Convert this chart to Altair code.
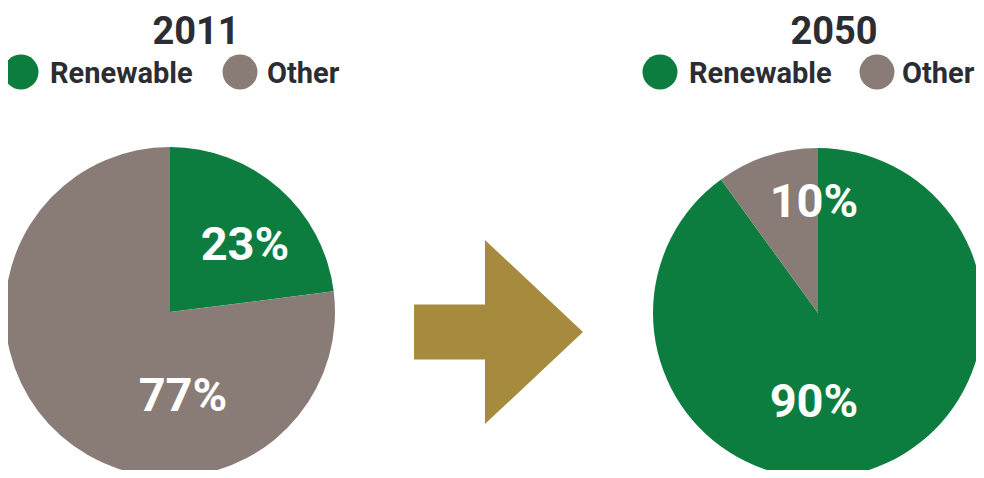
import altair as alt
import pandas as pd

# ---- data ----
categories = ["Renewable", "Other"]
years = ["2011", "2050"]
share_2011 = [23, 77]
share_2050 = [90, 10]
colors = ["#0C7D3E", "#897C76"]

TEXT = "#2B2D33"
ARROW = "#A68B3F"
HEAD_FONT = "Roboto"
LABEL_FONT = "Roboto"
OFF = 8  # page margin

color_scale = alt.Scale(domain=categories, range=colors)


def P(v):
    return v - OFF


def pie(shares, cx, cy):
    df = pd.DataFrame({"category": categories, "share": shares, "order": [0, 1]})
    return alt.Chart(df).mark_arc(radius=165, strokeWidth=0).encode(
        theta=alt.Theta("share:Q", stack=True),
        color=alt.Color("category:N", scale=color_scale, legend=None),
        order=alt.Order("order:Q"),
        x=alt.value(P(cx)),
        y=alt.value(P(cy)),
    )


def label(shares, idx, x, y):
    df = pd.DataFrame({"t": [f"{shares[idx]}%"]})
    return alt.Chart(df).mark_text(
        font=LABEL_FONT, fontWeight="bold", fontSize=47, color="white",
        align="center", baseline="alphabetic"
    ).encode(text="t:N", x=alt.value(P(x)), y=alt.value(P(y)))


def title(year, x, y):
    df = pd.DataFrame({"t": [year]})
    return alt.Chart(df).mark_text(
        font=HEAD_FONT, fontWeight="bold", fontSize=38, color=TEXT,
        align="center", baseline="alphabetic"
    ).encode(text="t:N", x=alt.value(P(x)), y=alt.value(P(y)))


def legend_item(cat_idx, cx, tx):
    df = pd.DataFrame({"category": [categories[cat_idx]]})
    dot = alt.Chart(df).mark_point(filled=True, shape="circle", size=1225, opacity=1, strokeWidth=0).encode(
        color=alt.Color("category:N", scale=color_scale, legend=None),
        x=alt.value(P(cx)), y=alt.value(P(72)),
    )
    txt = alt.Chart(df).mark_text(
        font=HEAD_FONT, fontWeight="bold", fontSize=29, color=TEXT,
        align="left", baseline="alphabetic"
    ).encode(text="category:N", x=alt.value(P(tx)), y=alt.value(P(83)))
    return dot + txt


arrow_path = "M-0.918,-0.3 L-0.147,-0.3 L-0.147,-1 L0.918,0 L-0.147,1 L-0.147,0.3 L-0.918,0.3 Z"
arrow = alt.Chart(pd.DataFrame({"a": [1]})).mark_point(
    shape=arrow_path, filled=True, size=184 * 184, color=ARROW, opacity=1, strokeWidth=0
).encode(x=alt.value(P(498.5)), y=alt.value(P(332)))

chart = alt.layer(
    pie(share_2011, 170, 312),
    pie(share_2050, 818, 313),
    label(share_2011, 0, 245, 260),
    label(share_2011, 1, 183, 411),
    label(share_2050, 1, 814, 217),
    label(share_2050, 0, 814, 417),
    title(years[0], 196, 44),
    title(years[1], 834, 44),
    legend_item(0, 21, 50),
    legend_item(1, 240, 267),
    legend_item(0, 660, 689),
    legend_item(1, 877, 902),
    arrow,
).properties(
    width=968, height=462, padding=0, autosize=alt.AutoSizeParams(type="none")
).configure_view(stroke=None)

chart.save("out.html", embed_options={"renderer": "svg", "actions": False})
